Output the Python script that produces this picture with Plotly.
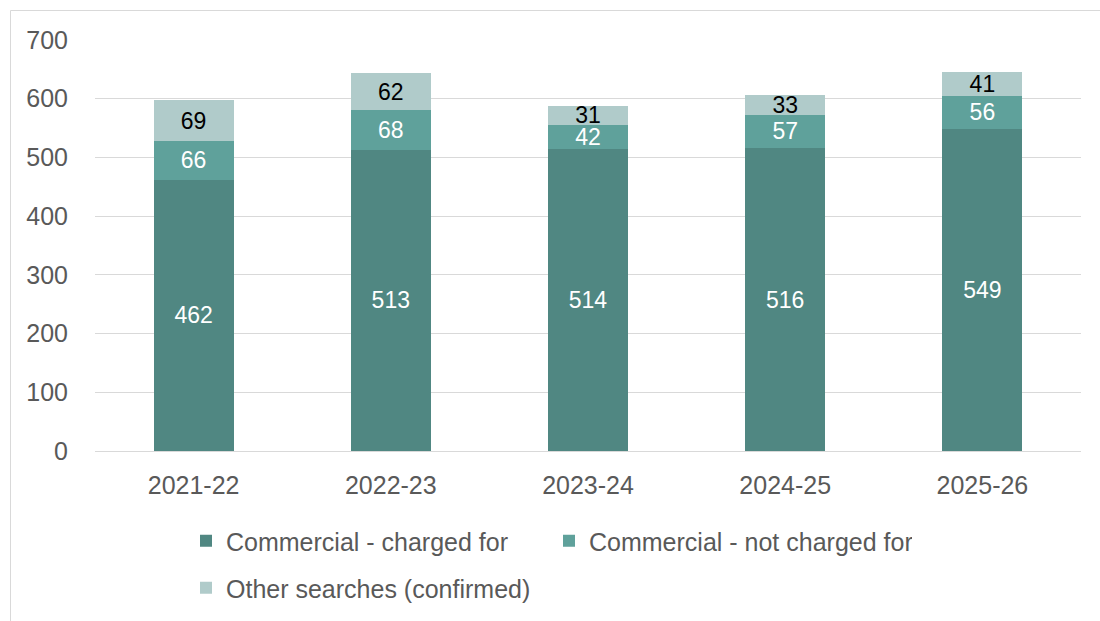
import plotly.graph_objects as go

years = ["2021-22", "2022-23", "2023-24", "2024-25", "2025-26"]
charged = [462, 513, 514, 516, 549]
not_charged = [66, 68, 42, 57, 56]
other = [69, 62, 31, 33, 41]

series = [
    ("Commercial - charged for", charged, "#508782", "white", "legend"),
    ("Commercial - not charged for", not_charged, "#5fa19b", "white", "legend"),
    ("Other searches (confirmed)", other, "#b0cbca", "black", "legend2"),
]

FONT = "Liberation Sans, Arial, sans-serif"
GREY = "#595959"
FS = 25
LABEL_FS = 23

fig = go.Figure()
for name, vals, color, txtcol, leg in series:
    fig.add_trace(go.Bar(
        name=name, x=years, y=vals, legend=leg,
        marker=dict(color=color, line=dict(width=0)),
        text=vals, texttemplate="%{text}",
        textposition="inside", insidetextanchor="middle", textangle=0,
        constraintext="none", cliponaxis=False,
        textfont=dict(family=FONT, size=LABEL_FS, color=txtcol),
        hoverinfo="skip",
    ))

L, R, T, B = 95, 19, 40, 170
W, H = 1100, 621
pw, ph = W - L - R, H - T - B

def px(x):
    return (x - L) / pw

def py(y):
    return (H - B - y) / ph

# outer frame of the chart area
fig.add_shape(type="rect", xref="paper", yref="paper",
              x0=px(10.5), x1=px(1110), y0=py(640), y1=py(10.5),
              line=dict(color="#d9d9d9", width=1), fillcolor="rgba(0,0,0,0)", layer="below")

legend_common = dict(
    orientation="h", xanchor="left", yanchor="top",
    entrywidth=318, entrywidthmode="pixels", traceorder="normal",
    font=dict(family=FONT, size=FS, color=GREY), itemwidth=30,
    bgcolor="rgba(0,0,0,0)",
)

fig.update_layout(
    barmode="stack", bargap=0.595,
    width=W, height=H,
    margin=dict(l=L, r=R, t=T, b=B, autoexpand=False),
    paper_bgcolor="white", plot_bgcolor="white",
    font=dict(family=FONT, size=FS, color=GREY),
    showlegend=True,
    legend=dict(x=px(186), y=py(518), **legend_common),
    legend2=dict(x=px(186), y=py(565), **legend_common),
    xaxis=dict(showline=False, ticks="", tickfont=dict(size=FS, color=GREY),
               showgrid=False, ticklabelstandoff=17, automargin=False),
    yaxis=dict(range=[0, 700], dtick=100, showgrid=True, gridcolor="#d9d9d9",
               gridwidth=1, zeroline=True, zerolinecolor="#d9d9d9", zerolinewidth=1,
               showline=False, ticks="", tickfont=dict(size=FS, color=GREY),
               ticklabelstandoff=26, automargin=False),
)

fig.write_html("out.html")
